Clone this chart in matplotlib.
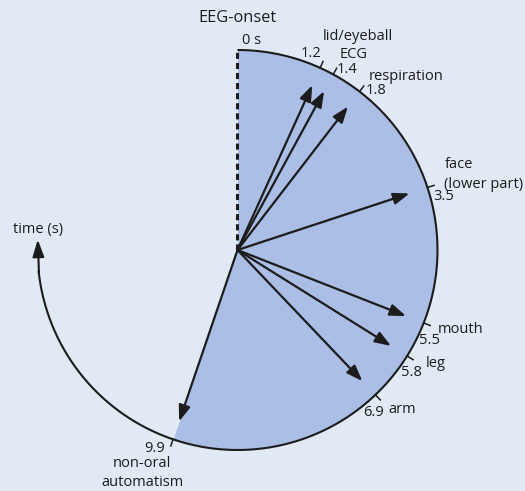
import numpy as np
import matplotlib
matplotlib.use("Agg")
import matplotlib.pyplot as plt

# ---------------- data ----------------
events = ["lid/eyeball", "ECG", "respiration", "face\n(lower part)",
          "mouth", "leg", "arm", "non-oral\nautomatism"]
time_labels = ["1.2", "1.4", "1.8", "3.5", "5.5", "5.8", "6.9", "9.9"]
# angular positions (s) at which each event is drawn
event_pos = [1.22, 1.43, 1.88, 3.59, 5.57, 6.10, 6.82, 9.94]
onset_label = "EEG-onset"
zero_label = "0 s"
axis_label = "time (s)"
seizure_end = 9.94         # end of shaded wedge (s)
time_axis_end = 13.65      # end of the time-arrow arc (s)
full_circle = 18.0         # seconds per full turn (20 deg per second)

# ---------------- style ----------------
BG = "#e1eaf4"
WEDGE = "#abbee6"
INK = "#1c1c1c"
FONT = "Open Sans"
FS = 10.5
PX = 0.72  # points per pixel at dpi 100
ARROW_R = 0.905


def th(t):
    return np.asarray(t) * 2 * np.pi / full_circle


fig = plt.figure(figsize=(5.25, 4.91), dpi=100, facecolor=BG)
ax = fig.add_axes([37.5 / 525, 41 / 491, 400 / 525, 400 / 491], projection="polar")
ax.set_theta_zero_location("N")
ax.set_theta_direction(-1)
ax.set_ylim(0, 1)
ax.set_facecolor("none")
ax.grid(False)
ax.set_xticks([])
ax.set_yticks([])
ax.spines["polar"].set_visible(False)

# shaded wedge
tt = np.linspace(0, seizure_end, 300)
ax.fill_between(th(tt), 0, 1, color=WEDGE, lw=0, zorder=1)

# outer circle / time arc
ta = np.linspace(0, time_axis_end - 0.45, 400)
ax.plot(th(ta), np.ones_like(ta), color=INK, lw=1.5, zorder=3,
        solid_capstyle="butt", clip_on=False)
ax.annotate("", xy=(th(time_axis_end), 1.0), xytext=(th(time_axis_end - 0.5), 1.0),
            arrowprops=dict(arrowstyle="-|>,head_length=0.65,head_width=0.22",
                            mutation_scale=16, color=INK, lw=1.5,
                            shrinkA=0, shrinkB=0), zorder=4, annotation_clip=False)

# dashed onset line
ax.plot([0, 0], [0, 1], color=INK, lw=2.2, ls=(0, (2.0, 1.3)), zorder=3,
        clip_on=False)

# event arrows
for t in event_pos:
    ax.annotate("", xy=(th(t), ARROW_R), xytext=(0, 0),
                arrowprops=dict(arrowstyle="-|>,head_length=0.6,head_width=0.22",
                                mutation_scale=16, color=INK, lw=1.6,
                                shrinkA=0, shrinkB=0), zorder=5)

# ticks on the circle
for t in event_pos:
    ax.plot([th(t), th(t)], [1.0, 1.035], color=INK, lw=1.1, zorder=3,
            clip_on=False)

# label layout: (dx, dy) pixels for number and name, alignment
num_off = [(1, 14, "right"), (3, 4.5, "left"), (6, 1, "left"), (6, -9, "left"),
           (-5, -18, "left"), (-6, -17, "left"), (-1.5, -18, "center"),
           (-8, -9.5, "right")]
name_off = [(3, 31, "left"), (6, 20, "left"), (9, 15, "left"), (17, 13, "left"),
            (14, -7, "left"), (19, -8, "left"), (13, -15, "left"),
            (-31, -33.5, "center")]

for t, lab, name, (ndx, ndy, nha), (mdx, mdy, mha) in zip(
        event_pos, time_labels, events, num_off, name_off):
    ax.annotate(lab, xy=(th(t), 1.0), xytext=(ndx * PX, ndy * PX),
                textcoords="offset points", ha=nha, va="center",
                fontsize=FS, family=FONT, color=INK, annotation_clip=False)
    ax.annotate(name, xy=(th(t), 1.0), xytext=(mdx * PX, mdy * PX),
                textcoords="offset points", ha=mha, va="center",
                multialignment=mha, linespacing=1.4,
                fontsize=FS, family=FONT, color=INK, annotation_clip=False)

ax.annotate(zero_label, xy=(0, 1.0), xytext=(5 * PX, 10 * PX),
            textcoords="offset points", ha="left", va="center",
            fontsize=FS, family=FONT, color=INK, annotation_clip=False)
ax.annotate(onset_label, xy=(0, 1.0), xytext=(0, 31.5 * PX),
            textcoords="offset points", ha="center", va="center",
            fontsize=11.8, family=FONT, color=INK, annotation_clip=False)
ax.annotate(axis_label, xy=(th(time_axis_end), 1.0), xytext=(0, 10 * PX),
            textcoords="offset points", ha="center", va="center",
            fontsize=FS, family=FONT, color=INK, annotation_clip=False)

fig.savefig("out.png", dpi=100, facecolor=BG)
